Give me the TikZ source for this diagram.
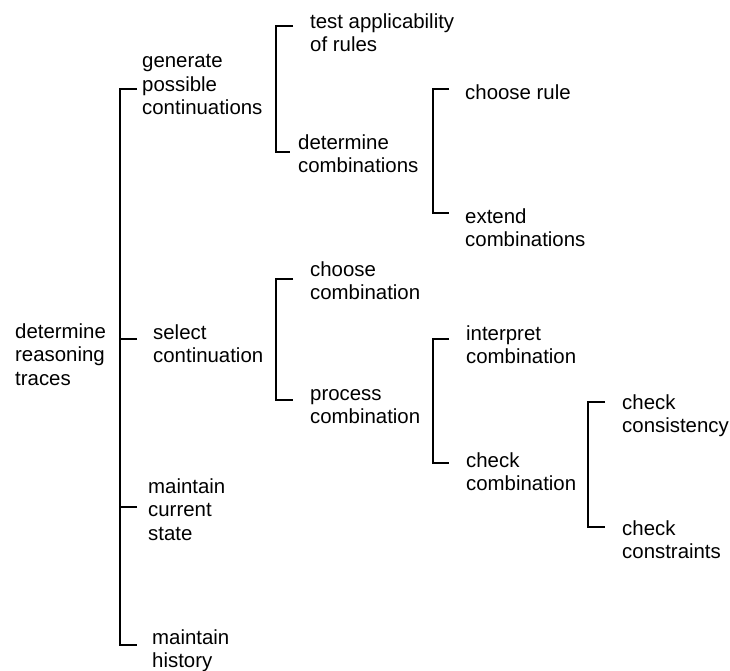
\documentclass[tikz,border=0pt]{standalone}
\usepackage{fontspec}
\setmainfont{Liberation Sans}
\begin{document}
\begin{tikzpicture}[x=1pt,y=-1pt,
  lbl/.style={anchor=north west,inner sep=0pt,align=left,
    font=\fontsize{20.4}{23.5}\selectfont,execute at begin node=\strut},
  brk/.style={line width=1.6pt,line cap=butt,line join=miter}]
\useasboundingbox (0,0) rectangle (730,670);

% labels, placed by the top of the first line's strut
\node[lbl] (root) at (15,323.5) {determine\\reasoning\\traces};
\node[lbl] (gen)  at (142,54.5) {generate\\possible\\continuations};
\node[lbl] (sel)  at (153,324.5) {select\\continuation};
\node[lbl] (cur)  at (148,478.5) {maintain\\current\\state};
\node[lbl] (hist) at (152,629.5) {maintain\\history};
\node[lbl] (test) at (310,13.5) {test applicability\\of rules};
\node[lbl] (detc) at (298,134.5) {determine\\combinations};
\node[lbl] (crule) at (465,82.5) {choose rule};
\node[lbl] (ext)  at (465,208.5) {extend\\combinations};
\node[lbl] (ccomb) at (310,261.5) {choose\\combination};
\node[lbl] (proc) at (310,389) {process\\combination};
\node[lbl] (interp) at (466,325.5) {interpret\\combination};
\node[lbl] (chk)  at (466,452.5) {check\\combination};
\node[lbl] (cons) at (622,394.5) {check\\consistency};
\node[lbl] (constr) at (622,520.5) {check\\constraints};

% tick ends beside each child label
\coordinate (gen-in)  at (137,89);
\coordinate (sel-in)  at (137,339);
\coordinate (cur-in)  at (137,507);
\coordinate (hist-in) at (137,645);
\coordinate (test-in) at (293,26);
\coordinate (detc-in) at (290,152);
\coordinate (crule-in) at (449,89);
\coordinate (ext-in)  at (449,213);
\coordinate (ccomb-in) at (293,279);
\coordinate (proc-in) at (293,400);
\coordinate (interp-in) at (449,339);
\coordinate (chk-in)  at (449,463);
\coordinate (cons-in) at (605,402);
\coordinate (constr-in) at (605,527);

% root bracket
\draw[brk] (gen-in) -- ++(-17,0) coordinate (rbar) |- (hist-in);
\draw[brk] (sel-in) -- (sel-in -| rbar);
\draw[brk] (cur-in) -- (cur-in -| rbar);

% generate possible continuations
\draw[brk] (test-in) -- ++(-17,0) |- (detc-in);
% determine combinations
\draw[brk] (crule-in) -- ++(-16,0) |- (ext-in);
% select continuation
\draw[brk] (ccomb-in) -- ++(-17,0) |- (proc-in);
% process combination
\draw[brk] (interp-in) -- ++(-16,0) |- (chk-in);
% check combination
\draw[brk] (cons-in) -- ++(-17,0) |- (constr-in);
\end{tikzpicture}
\end{document}
